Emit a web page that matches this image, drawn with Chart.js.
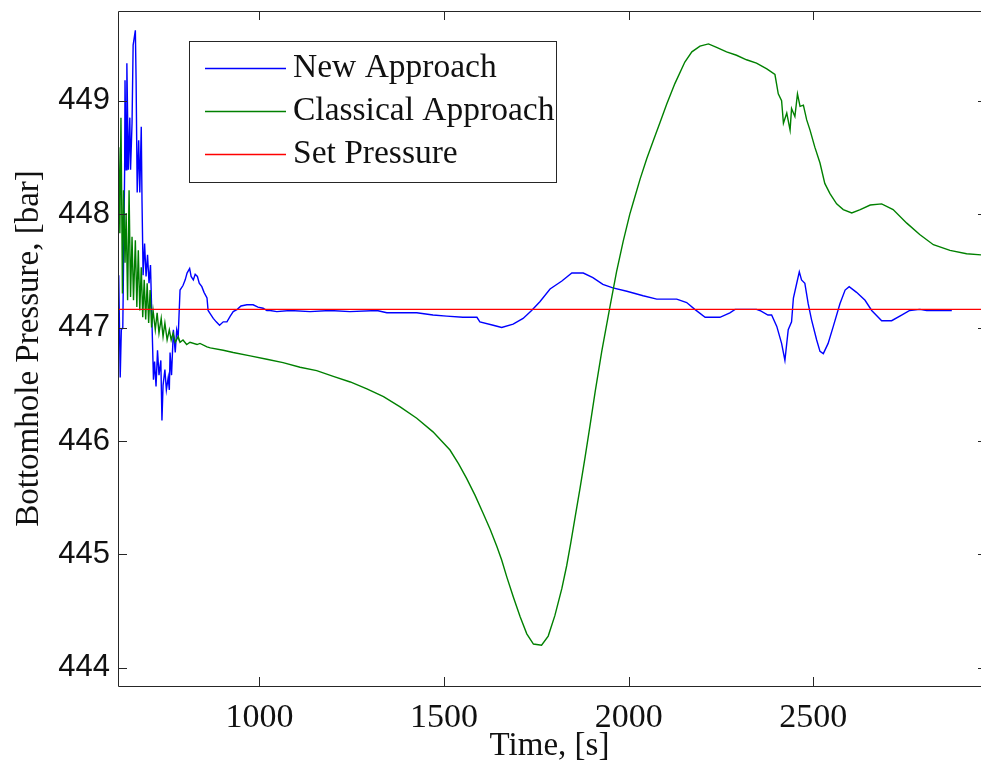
<!DOCTYPE html>
<html>
<head>
<meta charset="utf-8">
<script src="https://cdn.jsdelivr.net/npm/chart.js@4.4.1/dist/chart.umd.min.js"></script>
<style>
  html, body { margin: 0; padding: 0; background: #fff; }
  canvas { display: block; }
</style>
</head>
<body>
<canvas id="chart" width="981" height="767"></canvas>
<script>
// values: time [s] and bottomhole pressure [bar]
var newTime = [
  618, 619, 623, 626, 630, 635, 636, 639, 641, 645,
  649, 651, 655, 658, 664, 666, 669, 673, 676, 680,
  682, 685, 689, 693, 697, 701, 705, 710, 713, 716,
  720, 724, 728, 733, 736, 739, 744, 748, 753, 756,
  758, 762, 767, 772, 776, 780, 785, 793, 799, 804,
  811, 815, 821, 826, 832, 837, 844, 850, 858, 861,
  867, 875, 883, 892, 902, 912, 921, 929, 940, 950,
  966, 983, 996, 1010, 1020, 1029, 1047, 1083, 1137, 1191,
  1245, 1318, 1345, 1381, 1426, 1470, 1507, 1551, 1589, 1597,
  1633, 1656, 1687, 1714, 1737, 1760, 1787, 1819, 1846, 1877,
  1903, 1930, 1957, 1995, 2039, 2076, 2130, 2157, 2179, 2207,
  2247, 2274, 2288, 2346, 2355, 2377, 2387, 2401, 2414, 2423,
  2432, 2441, 2446, 2455, 2462, 2468, 2477, 2486, 2495, 2509,
  2518, 2527, 2540, 2554, 2572, 2586, 2597, 2617, 2640, 2658,
  2685, 2712, 2739, 2761, 2788, 2807, 2875
];
var newPressure = [
  447.33, 447.46, 446.56, 446.98, 447.00, 448.39, 449.18, 448.39, 449.33, 448.39,
  448.85, 448.39, 448.80, 449.49, 449.62, 449.18, 448.19, 448.65, 448.19, 448.77,
  448.12, 447.46, 447.74, 447.45, 447.64, 447.39, 447.55, 446.92, 446.54, 446.70,
  446.48, 446.80, 446.58, 446.71, 446.18, 446.49, 446.63, 446.45, 446.56, 446.45,
  446.78, 446.58, 446.98, 446.78, 446.98, 446.92, 447.33, 447.37, 447.42, 447.48,
  447.52, 447.45, 447.42, 447.47, 447.45, 447.39, 447.36, 447.31, 447.26, 447.15,
  447.12, 447.08, 447.05, 447.02, 447.05, 447.05, 447.10, 447.14, 447.16, 447.19,
  447.20, 447.20, 447.18, 447.17, 447.15, 447.15, 447.14, 447.15, 447.14, 447.15,
  447.14, 447.15, 447.13, 447.13, 447.13, 447.11, 447.10, 447.09, 447.09, 447.05,
  447.02, 447.00, 447.03, 447.08, 447.15, 447.23, 447.34, 447.41, 447.48, 447.48,
  447.44, 447.38, 447.35, 447.32, 447.28, 447.25, 447.25, 447.22, 447.16, 447.09,
  447.09, 447.13, 447.16, 447.16, 447.15, 447.11, 447.11, 447.01, 446.86, 446.71,
  446.98, 447.05, 447.26, 447.39, 447.49, 447.42, 447.39, 447.21, 447.07, 446.89,
  446.79, 446.77, 446.86, 447.01, 447.21, 447.33, 447.36, 447.31, 447.24, 447.15,
  447.06, 447.06, 447.11, 447.15, 447.16, 447.15, 447.15
];

var classicTime = [
  617, 619, 622, 625, 627, 629, 632, 636, 639, 643,
  647, 651, 655, 659, 664, 668, 672, 676, 680, 684,
  688, 692, 696, 700, 704, 708, 712, 718, 723, 728,
  734, 739, 744, 750, 756, 761, 766, 772, 780, 785,
  793, 803, 812, 831, 839, 858, 867, 902, 929, 975,
  1020, 1064, 1110, 1155, 1200, 1246, 1291, 1336, 1381, 1426,
  1470, 1516, 1539, 1561, 1584, 1606, 1625, 1643, 1656, 1670,
  1688, 1706, 1724, 1742, 1764, 1782, 1800, 1819, 1832, 1843,
  1855, 1868, 1882, 1895, 1909, 1927, 1949, 1967, 1985, 2003,
  2012, 2031, 2049, 2067, 2085, 2103, 2125, 2152, 2171, 2193,
  2216, 2238, 2265, 2292, 2319, 2346, 2374, 2396, 2405, 2414,
  2419, 2428, 2437, 2441, 2450, 2457, 2464, 2473, 2482, 2491,
  2504, 2518, 2531, 2545, 2563, 2581, 2604, 2627, 2654, 2685,
  2716, 2753, 2788, 2825, 2870, 2915, 2954
];
var classicPressure = [
  448.22, 448.59, 447.83, 448.85, 448.12, 447.30, 448.21, 447.57, 448.01, 447.24,
  448.21, 447.27, 447.80, 447.24, 447.77, 447.18, 447.68, 447.15, 447.53, 447.09,
  447.42, 447.07, 447.39, 447.04, 447.33, 447.00, 447.15, 446.98, 447.13, 446.95,
  447.08, 446.92, 447.04, 446.89, 446.98, 446.89, 446.95, 446.87, 446.92, 446.87,
  446.89, 446.85, 446.87, 446.85, 446.86, 446.83, 446.82, 446.80, 446.78, 446.75,
  446.72, 446.69, 446.65, 446.62, 446.57, 446.52, 446.46, 446.39, 446.30, 446.20,
  446.08, 445.92, 445.80, 445.67, 445.52, 445.36, 445.22, 445.07, 444.95, 444.80,
  444.62, 444.45, 444.30, 444.21, 444.20, 444.28, 444.46, 444.70, 444.90, 445.10,
  445.33, 445.58, 445.86, 446.13, 446.43, 446.79, 447.18, 447.49, 447.76, 448.00,
  448.10, 448.31, 448.49, 448.65, 448.81, 448.97, 449.15, 449.34, 449.43, 449.48,
  449.50, 449.47, 449.43, 449.40, 449.36, 449.33, 449.28, 449.23, 449.06, 449.00,
  448.80, 448.89, 448.74, 448.93, 448.86, 449.06, 448.95, 448.96, 448.83, 448.74,
  448.59, 448.45, 448.27, 448.18, 448.09, 448.04, 448.01, 448.04, 448.08, 448.09,
  448.04, 447.92, 447.82, 447.73, 447.68, 447.65, 447.64
];

var setTime = [617, 2954];
var setPressure = [447.16, 447.16];

var xTicks = [1000, 1500, 2000, 2500];
var yTicks = [444, 445, 446, 447, 448, 449];

var toPoints = function (xs, ys) {
  var pts = [];
  for (var i = 0; i < xs.length; i++) {
    pts.push({x: xs[i], y: ys[i]});
  }
  return pts;
};

var serif = "'Liberation Serif', 'Times New Roman', serif";
var sans = "'Liberation Sans', Arial, sans-serif";
var axisColor = '#262626';
var textColor = '#111';

// matlab style box with inward tick marks
var axesBox = {
  id: 'axesBox',
  afterDatasetsDraw: function (chart) {
    var ctx = chart.ctx;
    var a = chart.chartArea;
    var sx = chart.scales.x;
    var sy = chart.scales.y;
    var len = 9;
    ctx.save();
    ctx.strokeStyle = axisColor;
    ctx.lineWidth = 1;
    ctx.beginPath();
    ctx.rect(a.left + 0.5, a.top + 0.5, a.right - a.left, a.bottom - a.top);
    xTicks.forEach(function (v) {
      var px = Math.round(sx.getPixelForValue(v)) + 0.5;
      ctx.moveTo(px, a.bottom);
      ctx.lineTo(px, a.bottom - len);
      ctx.moveTo(px, a.top);
      ctx.lineTo(px, a.top + len);
    });
    yTicks.forEach(function (v) {
      var py = Math.round(sy.getPixelForValue(v)) + 0.5;
      ctx.moveTo(a.left, py);
      ctx.lineTo(a.left + len, py);
      // right box edge is cropped off the picture, only the tick tips show
      ctx.moveTo(a.right, py);
      ctx.lineTo(a.right - 3, py);
    });
    ctx.stroke();
    ctx.restore();
  }
};

// legend box drawn inside the axes, like the original figure
var boxLegend = {
  id: 'boxLegend',
  afterDraw: function (chart) {
    var ctx = chart.ctx;
    var left = 189, top = 41, width = 367, height = 141;
    var rows = [68, 111, 154];
    ctx.save();
    ctx.fillStyle = '#fff';
    ctx.fillRect(left, top, width, height);
    ctx.strokeStyle = axisColor;
    ctx.lineWidth = 1;
    ctx.strokeRect(left + 0.5, top + 0.5, width, height);
    ctx.font = '33.5px ' + serif;
    ctx.textBaseline = 'middle';
    chart.data.datasets.forEach(function (ds, i) {
      ctx.strokeStyle = ds.borderColor;
      ctx.lineWidth = 1.5;
      ctx.beginPath();
      ctx.moveTo(205, rows[i] + 0.5);
      ctx.lineTo(286, rows[i] + 0.5);
      ctx.stroke();
      ctx.fillStyle = textColor;
      ctx.fillText(ds.label, 293, rows[i]);
    });
    ctx.restore();
  }
};

var noLabelPadding = function (scale) {
  scale.paddingLeft = 0;
  scale.paddingRight = 0;
  scale.paddingTop = 0;
  scale.paddingBottom = 0;
};

var chart = new Chart(document.getElementById('chart').getContext('2d'), {
  type: 'line',
  data: {
    datasets: [
      {
        label: 'New Approach',
        data: toPoints(newTime, newPressure),
        borderColor: '#0000ff',
        borderWidth: 1.4,
        order: 2
      },
      {
        label: 'Classical Approach',
        data: toPoints(classicTime, classicPressure),
        borderColor: '#008000',
        borderWidth: 1.4,
        order: 1
      },
      {
        label: 'Set Pressure',
        data: toPoints(setTime, setPressure),
        borderColor: '#ff0000',
        borderWidth: 1.4,
        order: 0
      }
    ]
  },
  options: {
    responsive: false,
    animation: false,
    devicePixelRatio: 1,
    elements: {
      point: { radius: 0 },
      line: { tension: 0, fill: false }
    },
    datasets: { line: { clip: 0 } },
    layout: { padding: { left: 0, right: 0, top: 11, bottom: 0 } },
    plugins: {
      legend: { display: false },
      tooltip: { enabled: false }
    },
    scales: {
      x: {
        type: 'linear',
        min: 617,
        max: 2954,
        grid: { display: false, drawTicks: false },
        border: { display: false },
        afterBuildTicks: function (scale) {
          scale.ticks = xTicks.map(function (v) { return {value: v}; });
        },
        afterFit: function (scale) {
          scale.height = 81;
          noLabelPadding(scale);
        },
        ticks: {
          font: { family: serif, size: 34 },
          color: textColor,
          padding: 12,
          maxRotation: 0,
          callback: function (v) { return String(v); }
        },
        title: {
          display: true,
          text: 'Time, [s]',
          font: { family: serif, size: 33 },
          color: textColor,
          padding: { top: 0, bottom: 1 }
        }
      },
      y: {
        type: 'linear',
        min: 443.84,
        max: 449.79,
        grid: { display: false, drawTicks: false },
        border: { display: false },
        afterBuildTicks: function (scale) {
          scale.ticks = yTicks.map(function (v) { return {value: v}; });
        },
        afterFit: function (scale) {
          scale.width = 118;
          noLabelPadding(scale);
        },
        ticks: {
          font: { family: sans, size: 31 },
          color: textColor,
          padding: 8,
          callback: function (v) { return String(v); }
        },
        title: {
          display: true,
          text: 'Bottomhole Pressure, [bar]',
          font: { family: serif, size: 33 },
          color: textColor,
          padding: { top: 10, bottom: 0 }
        }
      }
    }
  },
  plugins: [axesBox, boxLegend]
});
</script>
</body>
</html>
